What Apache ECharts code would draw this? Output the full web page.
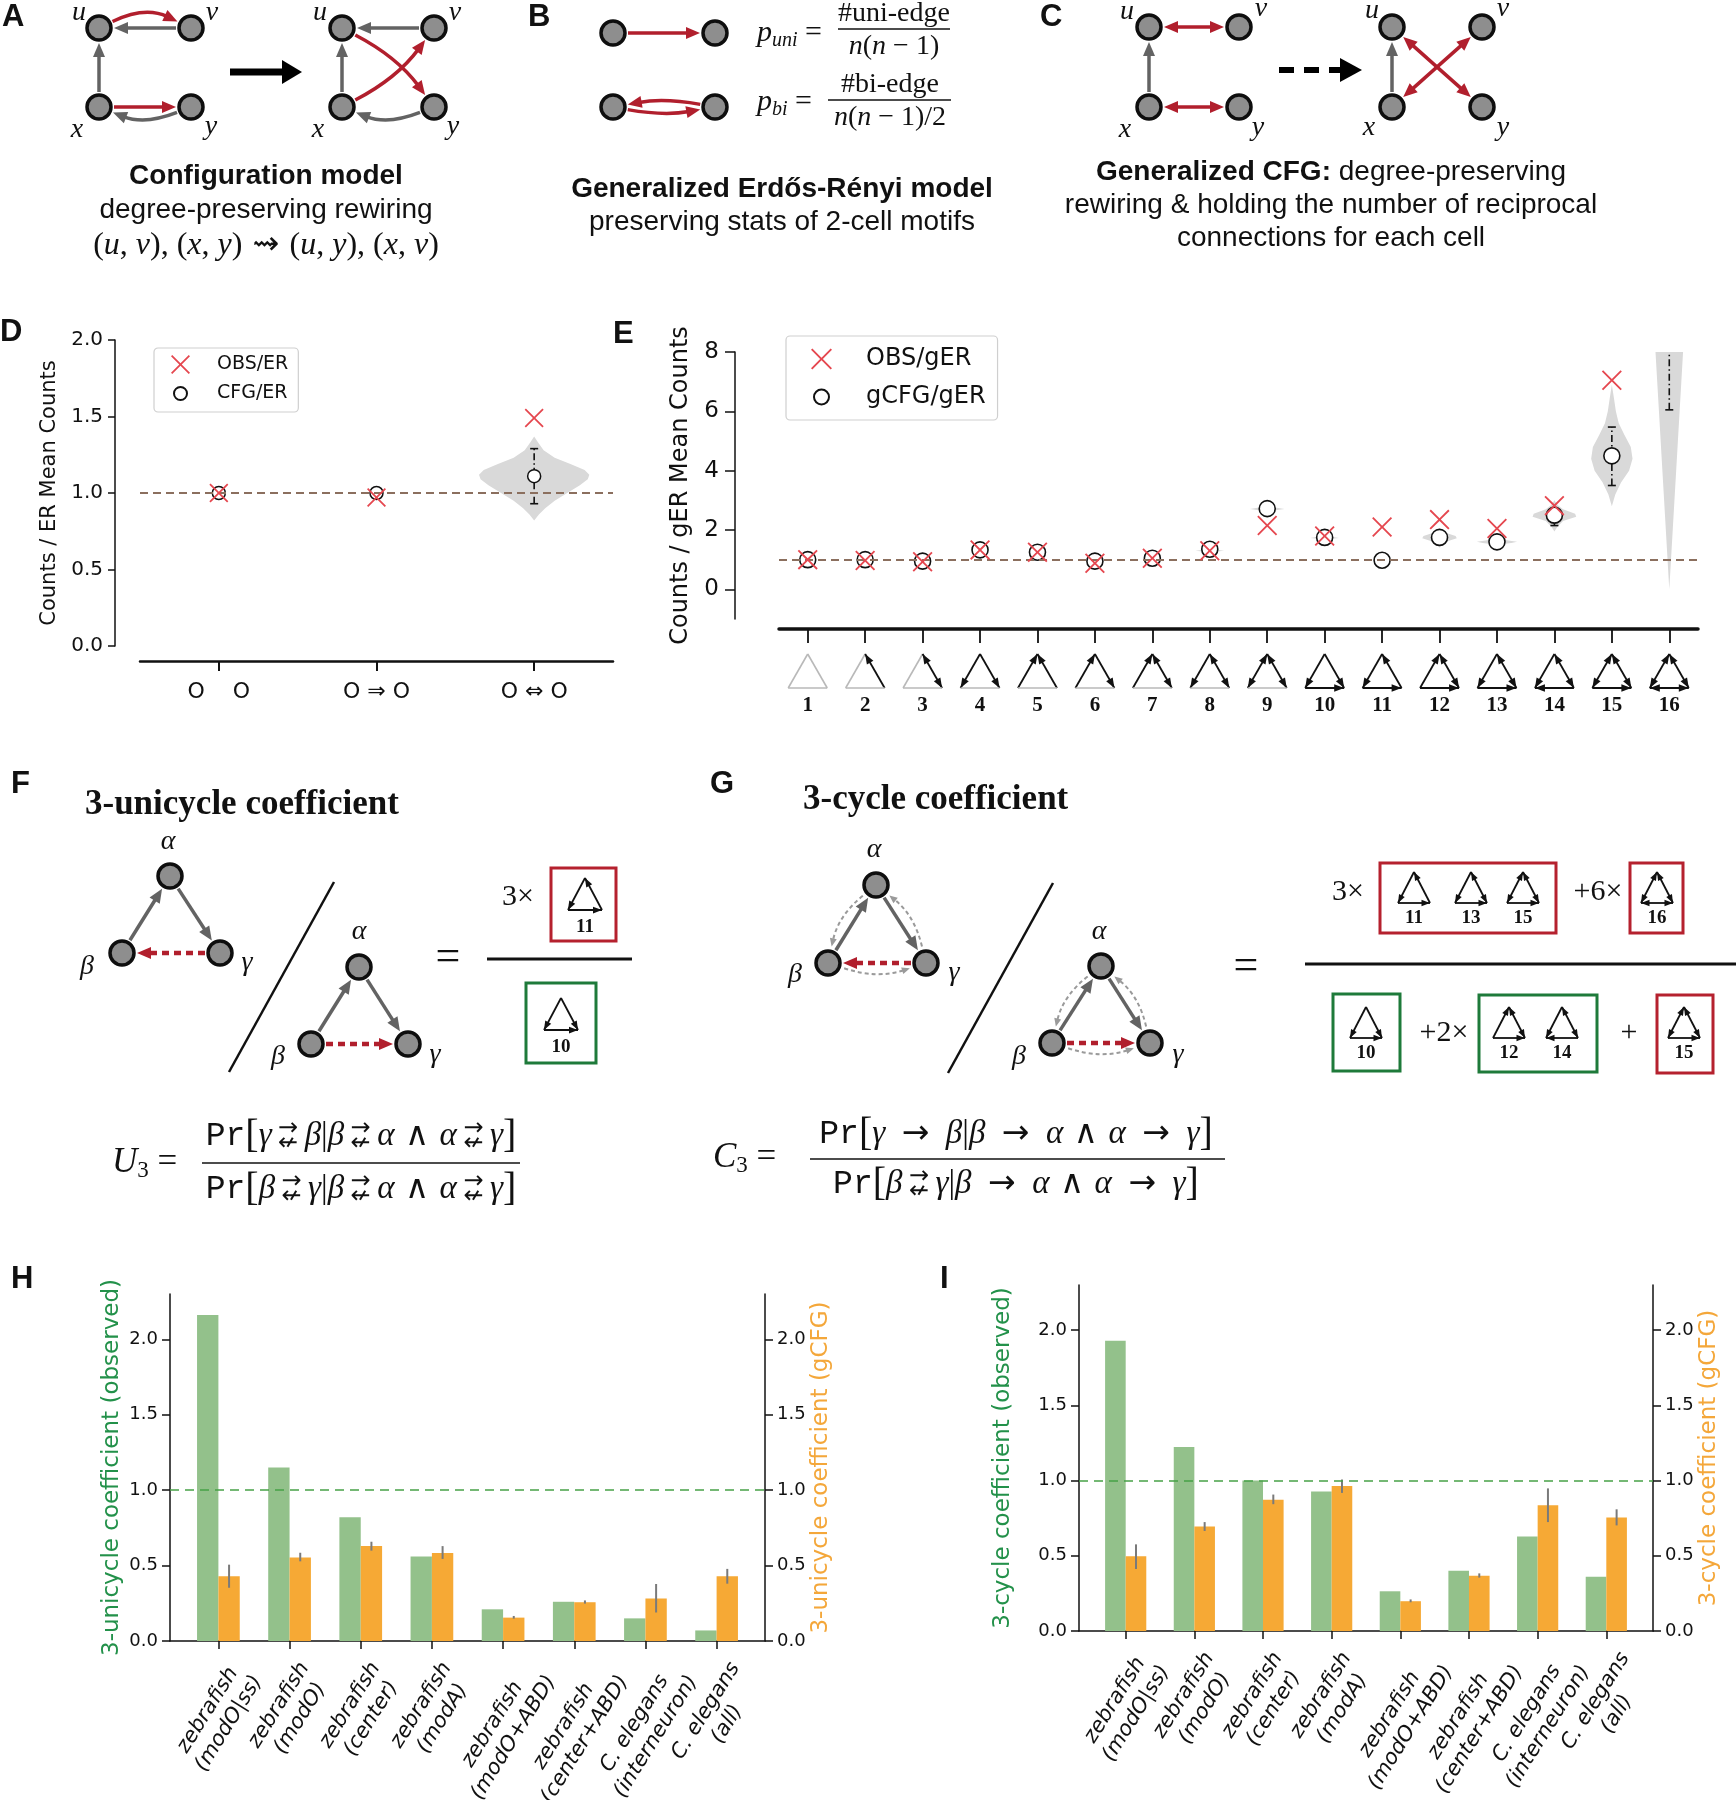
<!DOCTYPE html>
<html>
<head>
<meta charset="utf-8">
<script src="https://cdn.jsdelivr.net/npm/echarts@6.0.0/dist/echarts.min.js"></script>
<style>html,body{margin:0;padding:0;background:#fff;}#chart{width:1736px;height:1800px;}</style>
</head>
<body>
<div id="chart"></div>
<script>
// ================= DATA =================
const dCategories = ['O    O', 'O ⇒ O', 'O ⇔ O'];
const dObsER = [1.0, 0.97, 1.49];
const dCfgER = [1.0, 1.0, 1.11];
const dCfgLow = [null, null, 0.93];
const dCfgHigh = [null, null, 1.29];
const dViolin = [null, null,
  [[0.82,0],[0.86,0.03],[0.9,0.07],[0.95,0.13],[1.0,0.21],[1.05,0.29],[1.09,0.34],[1.12,0.35],[1.15,0.32],[1.19,0.23],[1.23,0.13],[1.28,0.06],[1.33,0.025],[1.37,0]]];

const eCategories = ['1','2','3','4','5','6','7','8','9','10','11','12','13','14','15','16'];
const eObsGER = [1.0, 0.97, 0.93, 1.33, 1.25, 0.88, 1.05, 1.3, 2.15, 1.8, 2.1, 2.35, 2.05, 2.82, 7.05, null];
const eCfgGER = [1.0, 1.0, 0.95, 1.33, 1.25, 0.95, 1.05, 1.35, 2.72, 1.75, 0.98, 1.75, 1.6, 2.5, 4.5, null];
const eCfgLow  = [null,null,null,null,null,null,null,null,null,null,null,null,null,2.15,3.5,6.05];
const eCfgHigh = [null,null,null,null,null,null,null,null,null,null,null,null,null,2.6,5.47,9.0];
const eViolin = [null,null,null,null,null,null,null,
  [[1.25,0],[1.3,0.25],[1.36,0]],
  [[2.6,0],[2.66,0.12],[2.71,0.3],[2.76,0.14],[2.84,0]],
  [[1.68,0],[1.73,0.25],[1.78,0.1],[1.83,0]],
  null,
  [[1.4,0],[1.5,0.05],[1.62,0.14],[1.72,0.3],[1.8,0.28],[1.9,0.12],[2.0,0.04],[2.05,0]],
  [[1.5,0],[1.56,0.25],[1.6,0.35],[1.65,0.2],[1.72,0]],
  [[1.95,0],[2.1,0.05],[2.3,0.15],[2.45,0.38],[2.55,0.36],[2.7,0.15],[2.85,0.05],[3.0,0]],
  [[2.8,0],[3.2,0.06],[3.6,0.16],[4.0,0.3],[4.4,0.36],[4.8,0.33],[5.2,0.22],[5.6,0.12],[6.0,0.07],[6.4,0.04],[6.9,0]],
  [[0,0],[1,0.03],[2,0.06],[3,0.09],[4,0.12],[5,0.15],[6,0.18],[7,0.21],[8,0.24],[8.6,0.26]]
];
// triad motif edge lists (T = top, L = bottom-left, R = bottom-right)
const motifEdges = [
  [], ['RT'], ['TR','RT'], ['TL','TR'], ['LT','RT'], ['LT','TR'], ['LT','TR','RT'], ['TL','TR','RT'],
  ['TL','LT','TR','RT'], ['TL','TR','LR'], ['TL','LR','RT'], ['LT','TR','RT','LR'], ['TL','TR','RT','LR'],
  ['TL','TR','RT','RL'], ['TL','LT','TR','RT','LR'], ['TL','LT','TR','RT','LR','RL']
];

const hCategories = ['zebrafish\n(modO|ss)','zebrafish\n(modO)','zebrafish\n(center)','zebrafish\n(modA)',
  'zebrafish\n(modO+ABD)','zebrafish\n(center+ABD)','C. elegans\n(interneuron)','C. elegans\n(all)'];
const hObserved = [2.16, 1.15, 0.82, 0.56, 0.21, 0.26, 0.15, 0.07];
const hGcfg     = [0.43, 0.553, 0.63, 0.583, 0.155, 0.257, 0.282, 0.43];
const hGcfgLow  = [0.353, 0.528, 0.599, 0.544, 0.148, 0.248, 0.189, 0.38];
const hGcfgHigh = [0.506, 0.585, 0.658, 0.629, 0.166, 0.269, 0.378, 0.478];
const iObserved = [1.93, 1.223, 1.0, 0.927, 0.264, 0.401, 0.629, 0.36];
const iGcfg     = [0.497, 0.695, 0.872, 0.964, 0.198, 0.367, 0.836, 0.754];
const iGcfgLow  = [0.412, 0.665, 0.843, 0.918, 0.191, 0.355, 0.724, 0.702];
const iGcfgHigh = [0.576, 0.724, 0.907, 1.007, 0.21, 0.383, 0.948, 0.809];
const coefTicks = [0, 0.5, 1.0, 1.5, 2.0];
const eTicks = [0, 2, 4, 6, 8];

// ================= HELPERS =================
const RED = '#b11f2d', GREY = '#636363', XRED = '#e5474f';
const SANS = '"Liberation Sans", Arial, sans-serif';
const SERIF = '"Liberation Serif", "DejaVu Serif", serif';
const mctx = document.createElement('canvas').getContext('2d');
function measure(t, f) { mctx.font = f; return mctx.measureText(t).width; }
function norm(v) { const l = Math.hypot(v[0], v[1]); return [v[0]/l, v[1]/l]; }
function head(tip, dir, hl, hw, color) {
  const b = [tip[0]-dir[0]*hl, tip[1]-dir[1]*hl], n = [-dir[1], dir[0]];
  return {type:'polygon', silent:true, shape:{points:[[tip[0],tip[1]],[b[0]+n[0]*hw/2,b[1]+n[1]*hw/2],[b[0]-n[0]*hw/2,b[1]-n[1]*hw/2]]}, style:{fill:color}};
}
function edge(p1, p2, o) {
  o = o || {};
  const color = o.color || GREY, lw = o.lw || 3.5, gap = o.gap || 15, hl = o.hl || 14, hw = o.hw || 12, bend = o.bend || 0;
  const d = [p2[0]-p1[0], p2[1]-p1[1]], L = Math.hypot(d[0], d[1]);
  const n = [-d[1]/L, d[0]/L];
  const c = [(p1[0]+p2[0])/2 + n[0]*bend, (p1[1]+p2[1])/2 + n[1]*bend];
  const t0 = norm([c[0]-p1[0], c[1]-p1[1]]), t1 = norm([p2[0]-c[0], p2[1]-c[1]]);
  const s = [p1[0]+t0[0]*gap, p1[1]+t0[1]*gap], e = [p2[0]-t1[0]*gap, p2[1]-t1[1]*gap];
  const els = [];
  let ls = s, le = e;
  if (o.end !== false) { els.push(head(e, t1, hl, hw, color)); le = [e[0]-t1[0]*hl*0.8, e[1]-t1[1]*hl*0.8]; }
  if (o.start) { els.push(head(s, [-t0[0], -t0[1]], hl, hw, color)); ls = [s[0]+t0[0]*hl*0.8, s[1]+t0[1]*hl*0.8]; }
  const style = {stroke:color, lineWidth:lw, fill:'none'};
  if (o.dash) style.lineDash = o.dash;
  if (bend) els.unshift({type:'bezierCurve', silent:true, shape:{x1:ls[0],y1:ls[1],x2:le[0],y2:le[1],cpx1:c[0],cpy1:c[1]}, style});
  else els.unshift({type:'line', silent:true, shape:{x1:ls[0],y1:ls[1],x2:le[0],y2:le[1]}, style});
  return els;
}
function node(p) { return {type:'circle', silent:true, shape:{cx:p[0], cy:p[1], r:12}, style:{fill:'#8e8e8e', stroke:'#0e0e0e', lineWidth:3.5}}; }
function txt(x, y, text, font, o) {
  o = o || {};
  const st = {text, font, fill:o.fill || '#111', align:o.align || 'center', verticalAlign:o.va || 'middle'};
  if (o.rich) st.rich = o.rich;
  return {type:'text', x, y, silent:true, style:st};
}
function seg(x1, y1, x2, y2, lw, color) { return {type:'line', silent:true, shape:{x1, y1, x2, y2}, style:{stroke:color || '#111', lineWidth:lw || 2}}; }
function box(x, y, w, h, color) { return {type:'rect', silent:true, shape:{x, y, width:w, height:h}, style:{fill:'none', stroke:color, lineWidth:3}}; }
function fontOf(k, sz) {
  if (k === 'i') return `italic ${sz}px ${SERIF}`;
  if (k === 'm') return `${sz}px "Liberation Mono", "DejaVu Sans Mono", monospace`;
  if (k === 's') return `${sz}px "DejaVu Sans"`;
  return `${sz}px ${SERIF}`;
}
function mathRow(x, y, items, size, align) {
  const parts = items.map(it => {
    if (it[0] === '#stack') return {stack:true, w:size*1.0};
    const sz = it[2] || size, f = fontOf(it[1], sz);
    return {t:it[0], f, w:measure(it[0], f), dy:it[3] || 0};
  });
  const total = parts.reduce((a, p) => a + p.w, 0);
  let cx = align === 'left' ? x : x - total/2;
  const els = [];
  parts.forEach(p => {
    if (p.stack) {
      const sf = `${Math.round(size*0.72)}px "DejaVu Sans"`;
      els.push(txt(cx + p.w/2, y - size*0.22, '→', sf));
      els.push(txt(cx + p.w/2, y + size*0.25, '↚', sf));
    } else els.push(txt(cx, y + p.dy, p.t, p.f, {align:'left'}));
    cx += p.w;
  });
  return els;
}
function motifEls(cx, top, w, h, edges, s) {
  s = s || 1;
  const P = {T:[cx, top], L:[cx - w/2, top + h], R:[cx + w/2, top + h]};
  const els = [];
  [['T','L'],['T','R'],['L','R']].forEach(([a, b]) => {
    const ab = edges.includes(a + b), ba = edges.includes(b + a);
    if (!ab && !ba) { els.push(seg(P[a][0], P[a][1], P[b][0], P[b][1], 1.6, '#b9b9b9')); return; }
    els.push(seg(P[a][0], P[a][1], P[b][0], P[b][1], 1.8, '#111'));
    const d = norm([P[b][0]-P[a][0], P[b][1]-P[a][1]]);
    if (ab) els.push(head(P[b], d, 10*s, 7.5*s, '#111'));
    if (ba) els.push(head(P[a], [-d[0], -d[1]], 10*s, 7.5*s, '#111'));
  });
  return els;
}

// ================= SCHEMATIC PANELS (graphic) =================
const G = [];
function add(a) { if (Array.isArray(a)) a.forEach(e => G.push(e)); else G.push(a); }
const LBL = `italic 28px ${SERIF}`;
const CAP = `28px ${SANS}`, CAPB = `bold 28px ${SANS}`;
// panel letters
[['A',2,2],['B',528,2],['C',1040,2],['D',0,317],['E',613,319],['F',11,769],['G',710,769],['H',11,1264],['I',940,1264]]
  .forEach(([t,x,y]) => add(txt(x, y, t, `bold 31px ${SANS}`, {align:'left', va:'top'})));

// --- A ---
(function(){
  const u=[99,28], v=[191,28], x=[99,107], y=[191,107];
  add(edge(u,v,{color:RED, bend:-22})); add(edge(v,u)); add(edge(x,u)); add(edge(x,y,{color:RED})); add(edge(y,x,{bend:-18}));
  [u,v,x,y].forEach(p => add(node(p)));
  add(txt(79,13,'u',LBL)); add(txt(212,13,'v',LBL)); add(txt(77,130,'x',LBL)); add(txt(211,127,'y',LBL));
  add(seg(230,72,284,72,7,'#000')); add(head([302,72],[1,0],20,24,'#000'));
  const u2=[342,28], v2=[434,28], x2=[342,107], y2=[434,107];
  add(edge(v2,u2)); add(edge(x2,u2)); add(edge(y2,x2,{bend:-18}));
  add(edge(u2,y2,{color:RED, bend:-14})); add(edge(x2,v2,{color:RED, bend:14}));
  [u2,v2,x2,y2].forEach(p => add(node(p)));
  add(txt(320,13,'u',LBL)); add(txt(455,13,'v',LBL)); add(txt(318,130,'x',LBL)); add(txt(453,127,'y',LBL));
  add(txt(266,176,'Configuration model',CAPB));
  add(txt(266,210,'degree-preserving rewiring',CAP));
  add(mathRow(266,246,[['(','r'],['u','i'],[', ','r'],['v','i'],['), (','r'],['x','i'],[', ','r'],['y','i'],[')','r'],[' ⇝ ','s'],['(','r'],['u','i'],[', ','r'],['y','i'],['), (','r'],['x','i'],[', ','r'],['v','i'],[')','r']],32));
})();
// --- B ---
(function(){
  const n1=[613,33], n2=[715,33], n3=[613,107], n4=[715,107];
  add(edge(n1,n2,{color:RED})); add(edge(n4,n3,{color:RED, bend:9})); add(edge(n3,n4,{color:RED, bend:9}));
  [n1,n2,n3,n4].forEach(p => add(node(p)));
  add(mathRow(757,33,[['p','i',30],['uni','i',20,8],[' = ','r',30]],30,'left'));
  add(txt(894,14,'#uni-edge',fontOf('r',28)));
  add(seg(838,29,950,29,1.4));
  add(mathRow(894,47,[['n','i'],['(','r'],['n','i'],[' − 1)','r']],28));
  add(mathRow(757,102,[['p','i',30],['bi','i',20,8],[' = ','r',30]],30,'left'));
  add(txt(890,85,'#bi-edge',fontOf('r',28)));
  add(seg(828,100,951,100,1.4));
  add(mathRow(890,118,[['n','i'],['(','r'],['n','i'],[' − 1)/2','r']],28));
  add(txt(782,189,'Generalized Erdős-Rényi model',CAPB));
  add(txt(782,222,'preserving stats of 2-cell motifs',CAP));
})();
// --- C ---
(function(){
  const u=[1149,27], v=[1239,27], x=[1149,107], y=[1239,107];
  add(edge(u,v,{color:RED, start:true})); add(edge(x,y,{color:RED, start:true})); add(edge(x,u));
  [u,v,x,y].forEach(p => add(node(p)));
  add(txt(1127,12,'u',LBL)); add(txt(1261,9,'v',LBL)); add(txt(1125,130,'x',LBL)); add(txt(1258,128,'y',LBL));
  add({type:'line', silent:true, shape:{x1:1279,y1:70,x2:1340,y2:70}, style:{stroke:'#000', lineWidth:6, lineDash:[15,10]}});
  add(head([1362,70],[1,0],22,24,'#000'));
  const u2=[1392,27], v2=[1482,27], x2=[1392,107], y2=[1482,107];
  add(edge(u2,y2,{color:RED, start:true})); add(edge(x2,v2,{color:RED, start:true})); add(edge(x2,u2));
  [u2,v2,x2,y2].forEach(p => add(node(p)));
  add(txt(1372,11,'u',LBL)); add(txt(1503,9,'v',LBL)); add(txt(1369,128,'x',LBL)); add(txt(1503,128,'y',LBL));
  add(txt(1331,172,'{b|Generalized CFG:} degree-preserving',CAP,{rich:{b:{fontWeight:'bold', fontSize:28, fontFamily:'Liberation Sans'}}}));
  add(txt(1331,205,'rewiring & holding the number of reciprocal',CAP));
  add(txt(1331,238,'connections for each cell',CAP));
})();
// --- F ---
(function(){
  add(txt(85,805,'3-unicycle coefficient',`bold 35px ${SERIF}`,{align:'left'}));
  const a=[170,876], b=[122,953], c=[220,953];
  add(edge(b,a)); add(edge(a,c)); add(edge(c,b,{color:RED, dash:[7,5], lw:4.5}));
  [a,b,c].forEach(p => add(node(p)));
  add(txt(168,842,'α',LBL)); add(txt(87,967,'β',LBL)); add(txt(247,963,'γ',LBL));
  add(seg(334,882,229,1072,2.5));
  const a2=[359,967], b2=[311,1044], c2=[408,1044];
  add(edge(b2,a2)); add(edge(a2,c2)); add(edge(b2,c2,{color:RED, dash:[7,5], lw:4.5}));
  [a2,b2,c2].forEach(p => add(node(p)));
  add(txt(359,932,'α',LBL)); add(txt(278,1057,'β',LBL)); add(txt(435,1055,'γ',LBL));
  add(txt(448,958,'=',fontOf('r',44)));
  add(txt(518,897,'3×',fontOf('r',30)));
  add(box(551,868,65,73,'#b5212e'));
  add(motifEls(585,878,34,32,motifEdges[10],0.9)); add(txt(585,927,'11',`bold 19px ${SERIF}`));
  add(seg(487,959,632,959,3));
  add(box(526,983,70,80,'#1e7a3a'));
  add(motifEls(561,998,34,32,motifEdges[9],0.9)); add(txt(561,1047,'10',`bold 19px ${SERIF}`));
  add(mathRow(112,1163,[['U','i',35],['3','r',23,8],[' = ','r',35]],35,'left'));
  const n1=[['Pr','m'],['[','r',40],['γ','i'],['#stack'],['β','i'],['|','r'],['β','i'],['#stack'],['α','i'],[' ∧ ','s'],['α','i'],['#stack'],['γ','i'],[']','r',40]];
  const d1=[['Pr','m'],['[','r',40],['β','i'],['#stack'],['γ','i'],['|','r'],['β','i'],['#stack'],['α','i'],[' ∧ ','s'],['α','i'],['#stack'],['γ','i'],[']','r',40]];
  add(mathRow(361,1136,n1,33)); add(seg(202,1163,520,1163,1.6)); add(mathRow(361,1189,d1,33));
})();
// --- G ---
(function(){
  add(txt(803,800,'3-cycle coefficient',`bold 35px ${SERIF}`,{align:'left'}));
  const arc = {color:'#9a9a9a', lw:2, dash:[4,3], bend:16, gap:17, hl:8, hw:7};
  function tri(a,b,c,redFrom,redTo){
    add(edge(a,b,arc)); add(edge(c,a,arc)); add(edge(b,c,arc));
    add(edge(b,a)); add(edge(a,c)); add(edge(redFrom,redTo,{color:RED, dash:[7,5], lw:4.5}));
    [a,b,c].forEach(p => add(node(p)));
  }
  const a=[876,885], b=[828,963], c=[926,963];
  tri(a,b,c,c,b);
  add(txt(874,850,'α',LBL)); add(txt(795,975,'β',LBL)); add(txt(954,973,'γ',LBL));
  add(seg(1053,883,948,1073,2.5));
  const a2=[1101,966], b2=[1052,1043], c2=[1150,1043];
  tri(a2,b2,c2,b2,c2);
  add(txt(1099,932,'α',LBL)); add(txt(1019,1057,'β',LBL)); add(txt(1178,1055,'γ',LBL));
  add(txt(1246,967,'=',fontOf('r',44)));
  add(txt(1348,892,'3×',fontOf('r',30)));
  add(box(1380,863,176,70,'#b5212e'));
  [[10,1414],[12,1471],[14,1523]].forEach(([m,x]) => { add(motifEls(x,872,32,31,motifEdges[m],0.85)); add(txt(x,918,String(m+1),`bold 19px ${SERIF}`)); });
  add(txt(1598,892,'+6×',fontOf('r',30)));
  add(box(1630,863,53,70,'#b5212e'));
  add(motifEls(1657,872,32,31,motifEdges[15],0.85)); add(txt(1657,918,'16',`bold 19px ${SERIF}`));
  add(seg(1305,964,1736,964,3));
  add(box(1333,994,67,77,'#1e7a3a'));
  add(motifEls(1366,1007,32,31,motifEdges[9],0.85)); add(txt(1366,1053,'10',`bold 19px ${SERIF}`));
  add(txt(1444,1033,'+2×',fontOf('r',30)));
  add(box(1479,995,118,77,'#1e7a3a'));
  [[11,1509],[13,1562]].forEach(([m,x]) => { add(motifEls(x,1007,32,31,motifEdges[m],0.85)); add(txt(x,1053,String(m+1),`bold 19px ${SERIF}`)); });
  add(txt(1629,1033,'+',fontOf('r',30)));
  add(box(1657,995,56,78,'#b5212e'));
  add(motifEls(1684,1007,32,31,motifEdges[14],0.85)); add(txt(1684,1053,'15',`bold 19px ${SERIF}`));
  add(mathRow(713,1158,[['C','i',35],['3','r',23,8],[' = ','r',35]],35,'left'));
  const AR = ['\u2002→\u2002','s'];
  const n1=[['Pr','m'],['[','r',40],['γ','i'],AR,['β','i'],['|','r'],['β','i'],AR,['α','i'],[' ∧ ','s'],['α','i'],AR,['γ','i'],[']','r',40]];
  const d1=[['Pr','m'],['[','r',40],['β','i'],['#stack'],['γ','i'],['|','r'],['β','i'],AR,['α','i'],[' ∧ ','s'],['α','i'],AR,['γ','i'],[']','r',40]];
  add(mathRow(1016,1134,n1,33)); add(seg(810,1159,1225,1159,1.6)); add(mathRow(1016,1184,d1,33));
})();

// ================= CHART RENDERERS =================
function violinItem(profiles) {
  return function (params, api) {
    const i = api.value(0), prof = profiles[i];
    const band = api.size([1, 0])[0];
    const Lp = [], Rp = [];
    prof.forEach(([v, hw]) => { const p = api.coord([i, v]); Lp.push([p[0]-hw*band, p[1]]); Rp.push([p[0]+hw*band, p[1]]); });
    return {type:'polygon', shape:{points:Lp.concat(Rp.reverse())}, style:{fill:'#d9d9d9'}};
  };
}
function errItem(lows, highs) {
  return function (params, api) {
    const i = api.value(0);
    const a = api.coord([i, lows[i]]), b = api.coord([i, highs[i]]);
    const st = {stroke:'#111', lineWidth:1.6};
    return {type:'group', children:[
      {type:'line', shape:{x1:a[0],y1:a[1],x2:b[0],y2:b[1]}, style:{stroke:'#111', lineWidth:1.6, lineDash:[7,3,1.5,3]}},
      {type:'line', shape:{x1:a[0]-4,y1:a[1],x2:a[0]+4,y2:a[1]}, style:st},
      {type:'line', shape:{x1:b[0]-4,y1:b[1],x2:b[0]+4,y2:b[1]}, style:st}]};
  };
}
const BAR_W = 0.3;
function barItem(color, side) {
  return function (params, api) {
    const i = api.value(0), v = api.value(1);
    const x0 = side < 0 ? i - BAR_W : i;
    const p0 = api.coord([x0, v]), p1 = api.coord([x0 + BAR_W, 0]);
    return {type:'rect', shape:{x:p0[0], y:p0[1], width:p1[0]-p0[0], height:p1[1]-p0[1]}, style:{fill:color}};
  };
}
function barErrItem(lows, highs) {
  return function (params, api) {
    const i = api.value(0);
    const a = api.coord([i + BAR_W/2, lows[i]]), b = api.coord([i + BAR_W/2, highs[i]]);
    return {type:'line', shape:{x1:a[0],y1:a[1],x2:b[0],y2:b[1]}, style:{stroke:'#7a7a7a', lineWidth:2}};
  };
}
function iconItem(params, api) {
  const i = api.value(0), p = api.coord([i, -1]);
  return {type:'group', children:motifEls(p[0], p[1] + 35, 39, 34, motifEdges[i], 1)};
}

// rotated category labels for H / I (value x axis)
const ROT = 58;
const XMIN = -0.68, XMAX = 7.68;
function labelSetup(names, gridWidth) {
  const font = 'italic 21px "DejaVu Sans"';
  const ppu = gridWidth / (XMAX - XMIN);
  const rich = {}, vals = [];
  names.forEach((n, i) => {
    const W = Math.max(...n.split('\n').map(l => measure(l, font))) + 2;
    rich['c' + i] = {width:W, align:'center', fontSize:21, fontStyle:'italic', fontFamily:'DejaVu Sans', lineHeight:25, color:'#111'};
    vals.push(i + W * Math.cos(ROT * Math.PI / 180) / 2 / ppu);
  });
  const fmt = (v) => {
    let k = 0, best = 1e9;
    vals.forEach((x, j) => { if (Math.abs(x - v) < best) { best = Math.abs(x - v); k = j; } });
    return names[k].split('\n').map(l => `{c${k}|${l}}`).join('\n');
  };
  return {rich, vals, fmt};
}
const hLab = labelSetup(hCategories, 595);
const iLab = labelSetup(hCategories, 574);

const X_PATH = 'path://M0,0.065L0.065,0L0.5,0.435L0.935,0L1,0.065L0.565,0.5L1,0.935L0.935,1L0.5,0.565L0.065,1L0,0.935L0.435,0.5Z';
function circleIcon(d, bx) {
  const a = (bx - d) / 2, b = (bx + d) / 2, m = bx / 2, r = d / 2;
  return `path://M0,0M${bx},${bx}M${a},${m}A${r},${r} 0 1 1 ${b},${m}A${r},${r} 0 1 1 ${a},${m}Z`;
}
function barX(gi, lab) {
  return {gridIndex:gi, type:'value', min:XMIN, max:XMAX,
    axisLine:{show:true, onZero:true, lineStyle:{color:'#111', width:1.5}},
    axisTick:{show:true, customValues:[0,1,2,3,4,5,6,7], length:8, lineStyle:{color:'#111', width:1.5}},
    axisLabel:{customValues:lab.vals, formatter:lab.fmt, rich:lab.rich, rotate:ROT, align:'right', verticalAlign:'middle', margin:29, color:'#111'},
    splitLine:{show:false}};
}
function coefY(gi, pos, name, color, gap) {
  return {gridIndex:gi, type:'value', position:pos, min:0, max:2.3,
    axisLine:{show:true, onZero:false, lineStyle:{color:'#111', width:1.5}},
    axisTick:{show:true, customValues:coefTicks, length:8, lineStyle:{color:'#111', width:1.5}},
    axisLabel:{customValues:coefTicks, formatter:v => v.toFixed(1), fontSize:18, color:'#111', margin:12},
    splitLine:{show:false}, name, nameLocation:'middle', nameRotate:90, nameGap:gap,
    nameTextStyle:{fontSize:23, color}};
}
const dashBrown = {silent:true, symbol:'none', label:{show:false}, lineStyle:{type:[8,5], color:'#8b6f5e', width:2}, data:[{yAxis:1}]};
const dashGreen = {silent:true, symbol:'none', label:{show:false}, lineStyle:{type:[9,6], color:'rgba(70,160,70,0.75)', width:2.2}, data:[{yAxis:1}]};
const idx = (arr) => arr.map((v, i) => v == null ? null : [i, 0]).filter(Boolean);

const option = {
  animation: false,
  textStyle: {fontFamily: 'DejaVu Sans'},
  graphic: {elements: G},
  legend: [
    {left:154, top:348, orient:'vertical', itemWidth:19, itemHeight:19, itemGap:9, padding:[7,10,8,16],
     borderColor:'#cfcfcf', borderWidth:1.2, borderRadius:4, backgroundColor:'#fff', selectedMode:false,
     textStyle:{fontSize:19, color:'#111', padding:[0,0,0,22]},
     data:[{name:'OBS/ER'}, {name:'CFG/ER', icon:circleIcon(13,19)}]},
    {left:786, top:336, orient:'vertical', itemWidth:21, itemHeight:21, itemGap:14, padding:[11,12,11,24],
     borderColor:'#cfcfcf', borderWidth:1.2, borderRadius:4, backgroundColor:'#fff', selectedMode:false,
     textStyle:{fontSize:24, color:'#111', padding:[0,0,0,29]},
     data:[{name:'OBS/gER'}, {name:'gCFG/gER', icon:circleIcon(15,21)}]}
  ],
  grid: [
    {left:140, right:1123, top:340, bottom:1154, outerBoundsMode:'none'},
    {left:779, right:38, top:352, bottom:1181, outerBoundsMode:'none'},
    {left:170, right:971, top:1294, bottom:159, outerBoundsMode:'none'},
    {left:1079, right:83, top:1285, bottom:169, outerBoundsMode:'none'}
  ],
  xAxis: [
    {gridIndex:0, type:'category', data:dCategories, offset:15,
     axisLine:{onZero:false, lineStyle:{color:'#111', width:2.5}},
     axisTick:{show:true, alignWithLabel:true, interval:0, length:10, lineStyle:{color:'#111', width:2}},
     axisLabel:{interval:0, fontSize:22, color:'#111', margin:20}, splitLine:{show:false}},
    {gridIndex:1, type:'category', data:eCategories, offset:10,
     axisLine:{onZero:false, lineStyle:{color:'#111', width:3.5}},
     axisTick:{show:true, alignWithLabel:true, interval:0, length:14, lineStyle:{color:'#111', width:1.8}},
     axisLabel:{interval:0, fontSize:21, fontWeight:'bold', fontFamily:'Liberation Serif', color:'#111', margin:66}, splitLine:{show:false}},
    barX(2, hLab), barX(3, iLab)
  ],
  yAxis: [
    {gridIndex:0, type:'value', min:0, max:2, interval:0.5, offset:25,
     axisLine:{show:true, onZero:false, lineStyle:{color:'#111', width:1.5}},
     axisTick:{show:true, length:7, lineStyle:{color:'#111', width:1.5}},
     axisLabel:{fontSize:20, color:'#111', margin:12, formatter:v => v.toFixed(1)}, splitLine:{show:false},
     name:'Counts / ER Mean Counts', nameLocation:'middle', nameRotate:90, nameGap:55, nameTextStyle:{fontSize:21, color:'#111'}},
    {gridIndex:1, type:'value', min:-1, max:8, offset:44,
     axisLine:{show:true, onZero:false, lineStyle:{color:'#111', width:1.5}},
     axisTick:{show:true, customValues:eTicks, length:10, lineStyle:{color:'#111', width:1.5}},
     axisLabel:{customValues:eTicks, fontSize:23, color:'#111', margin:16}, splitLine:{show:false},
     name:'Counts / gER Mean Counts', nameLocation:'middle', nameRotate:90, nameGap:42, nameTextStyle:{fontSize:24, color:'#111'}},
    coefY(2, 'left', '3-unicycle coefficient (observed)', '#23914a', 46),
    coefY(2, 'right', '3-unicycle coefficient (gCFG)', '#f4a73a', 44),
    coefY(3, 'left', '3-cycle coefficient (observed)', '#23914a', 64),
    coefY(3, 'right', '3-cycle coefficient (gCFG)', '#f4a73a', 43)
  ],
  series: [
    // ---- D ----
    {type:'custom', xAxisIndex:0, yAxisIndex:0, z:1, clip:true, silent:true, renderItem:violinItem(dViolin), data:idx(dViolin)},
    {type:'custom', xAxisIndex:0, yAxisIndex:0, z:3, clip:true, silent:true, renderItem:errItem(dCfgLow, dCfgHigh), data:idx(dCfgLow), markLine:dashBrown},
    {type:'scatter', name:'CFG/ER', xAxisIndex:0, yAxisIndex:0, z:4, symbol:'circle', symbolSize:13, data:dCfgER,
     itemStyle:{color:'#fff', borderColor:'#111', borderWidth:1.5, opacity:1}},
    {type:'scatter', name:'OBS/ER', xAxisIndex:0, yAxisIndex:0, z:5, symbol:X_PATH, symbolSize:19, data:dObsER,
     itemStyle:{color:XRED, opacity:1}},
    // ---- E ----
    {type:'custom', xAxisIndex:1, yAxisIndex:1, z:1, clip:true, silent:true, renderItem:violinItem(eViolin), data:idx(eViolin)},
    {type:'custom', xAxisIndex:1, yAxisIndex:1, z:3, clip:true, silent:true, renderItem:errItem(eCfgLow, eCfgHigh), data:idx(eCfgLow), markLine:dashBrown},
    {type:'scatter', name:'gCFG/gER', xAxisIndex:1, yAxisIndex:1, z:4, symbol:'circle', symbolSize:16, data:eCfgGER,
     itemStyle:{color:'#fff', borderColor:'#111', borderWidth:1.6, opacity:1}},
    {type:'scatter', name:'OBS/gER', xAxisIndex:1, yAxisIndex:1, z:5, symbol:X_PATH, symbolSize:20, data:eObsGER,
     itemStyle:{color:XRED, opacity:1}},
    {type:'custom', xAxisIndex:1, yAxisIndex:1, z:2, clip:false, silent:true, renderItem:iconItem, data:eCategories.map((c, i) => [i, -1])},
    // ---- H ----
    {type:'custom', xAxisIndex:2, yAxisIndex:2, z:2, silent:true, renderItem:barItem('#93c18b', -1), data:hObserved.map((v, i) => [i, v])},
    {type:'custom', xAxisIndex:2, yAxisIndex:3, z:2, silent:true, renderItem:barItem('#f6a935', 1), data:hGcfg.map((v, i) => [i, v])},
    {type:'custom', xAxisIndex:2, yAxisIndex:3, z:3, silent:true, renderItem:barErrItem(hGcfgLow, hGcfgHigh), data:hGcfg.map((v, i) => [i, v]), markLine:dashGreen},
    // ---- I ----
    {type:'custom', xAxisIndex:3, yAxisIndex:4, z:2, silent:true, renderItem:barItem('#93c18b', -1), data:iObserved.map((v, i) => [i, v])},
    {type:'custom', xAxisIndex:3, yAxisIndex:5, z:2, silent:true, renderItem:barItem('#f6a935', 1), data:iGcfg.map((v, i) => [i, v])},
    {type:'custom', xAxisIndex:3, yAxisIndex:5, z:3, silent:true, renderItem:barErrItem(iGcfgLow, iGcfgHigh), data:iGcfg.map((v, i) => [i, v]), markLine:dashGreen}
  ]
};
const chart = echarts.init(document.getElementById('chart'), null, {renderer:'canvas', width:1736, height:1800});
chart.setOption(option);
</script>
</body>
</html>
